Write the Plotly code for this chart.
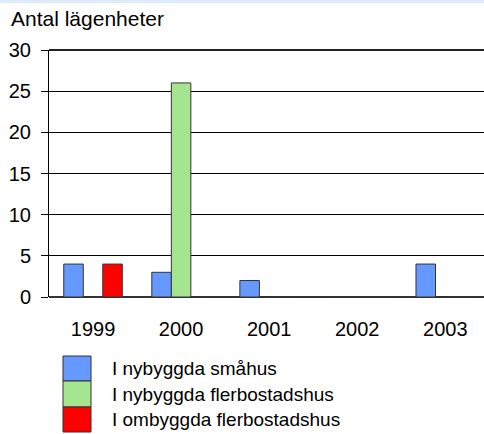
import plotly.graph_objects as go

years = ["1999", "2000", "2001", "2002", "2003"]
series_names = ["I nybyggda småhus", "I nybyggda flerbostadshus", "I ombyggda flerbostadshus"]
smahus = [4, 3, 2, 0, 4]
flerbostad_ny = [0, 26, 0, 0, 0]
flerbostad_om = [4, 0, 0, 0, 0]
series_values = [smahus, flerbostad_ny, flerbostad_om]
colors = ["#6699ff", "#a6e590", "#ff0000"]
y_ticks = [0, 5, 10, 15, 20, 25, 30]

FONT = "Liberation Sans, Arial, sans-serif"

fig = go.Figure()
for name, vals, col in zip(series_names, series_values, colors):
    fig.add_trace(go.Bar(
        x=years, y=vals, name=name,
        marker=dict(color=col, line=dict(color="#333333", width=1)),
        showlegend=False,
    ))

# plot area geometry (pixels) for paper-coordinate placement
L, T, W, H = 49, 50, 435, 247

def px(x):
    return (x - L) / W

def py(y):
    return (T + H - y) / H

shapes = []
annotations = []
# top light band
shapes.append(dict(type="rect", xref="paper", yref="paper",
                   x0=px(0), x1=px(484), y0=py(3), y1=py(0),
                   fillcolor="#deebfb", line=dict(width=0), layer="above"))
# slightly heavier top border line at 30
shapes.append(dict(type="line", xref="paper", yref="paper",
                   x0=0, x1=1, y0=1, y1=1,
                   line=dict(color="#222222", width=2), layer="above"))

# manual legend with large swatches
sw_top = [356, 381, 407]
sw_bot = [381, 407, 432]
for i, (name, col) in enumerate(zip(series_names, colors)):
    shapes.append(dict(type="rect", xref="paper", yref="paper",
                       x0=px(63), x1=px(91), y0=py(sw_bot[i]), y1=py(sw_top[i]),
                       fillcolor=col, line=dict(color="#333333", width=1)))
    annotations.append(dict(text=name, xref="paper", yref="paper",
                            x=px(110), y=py((sw_top[i] + sw_bot[i]) / 2),
                            xanchor="left", yanchor="middle", showarrow=False,
                            font=dict(family=FONT, size=19, color="#000000")))

annotations.append(dict(text="Antal lägenheter", xref="paper", yref="paper",
                        x=px(9), y=py(18), xanchor="left", yanchor="middle",
                        showarrow=False,
                        font=dict(family=FONT, size=21, color="#000000")))

fig.update_layout(
    width=484, height=434,
    margin=dict(l=L, r=0, t=T, b=434 - T - H, pad=0),
    paper_bgcolor="white", plot_bgcolor="white",
    barmode="group", bargap=0.335, bargroupgap=0,
    font=dict(family=FONT, size=20, color="#000000"),
    shapes=shapes, annotations=annotations,
    showlegend=False,
)
fig.update_xaxes(
    type="category", range=[-0.5, 4.44],
    showline=False, showgrid=False,
    ticks="outside", ticklen=14, tickcolor="rgba(0,0,0,0)",
    tickfont=dict(family=FONT, size=20, color="#000000"),
)
fig.update_yaxes(
    range=[0, 30], tickvals=y_ticks,
    showline=True, linecolor="#000000", linewidth=1,
    showgrid=True, gridcolor="#000000", gridwidth=1,
    zeroline=True, zerolinecolor="#333333", zerolinewidth=2,
    ticks="outside", ticklen=7, tickcolor="#000000",
    ticklabelstandoff=6,
    tickfont=dict(family=FONT, size=20, color="#000000"),
)

fig.write_html("out.html",
               config={"displayModeBar": False},
               post_script="document.body.style.margin='0';document.body.style.overflow='hidden';")
